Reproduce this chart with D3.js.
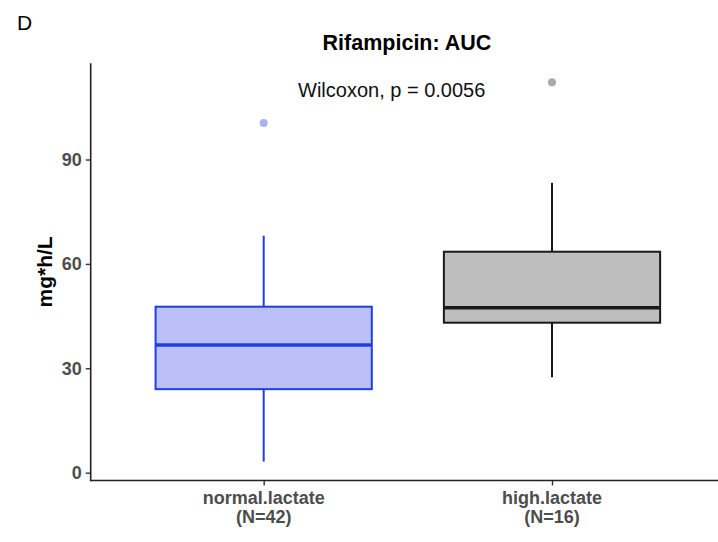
<!DOCTYPE html>
<html>
<head>
<meta charset="utf-8">
<script src="https://cdn.jsdelivr.net/npm/d3@7"></script>
<style>
  body { margin: 0; background: #fff; }
  text { font-family: "Liberation Sans", Arial, sans-serif; }
</style>
</head>
<body>
<div id="chart"></div>
<script>
var groups = ["normal.lactate", "high.lactate"];
var groupCounts = ["(N=42)", "(N=16)"];
// box stats: [lowWhisker, q1, median, q3, highWhisker]
var boxStats = [[3.2, 24.0, 36.7, 47.7, 68.1],
                [27.4, 43.1, 47.4, 63.5, 83.3]];
var outliers = [[100.5], [112.2]];
var yTicks = [0, 30, 60, 90];
var fills = ["#bcc0f8", "#bebebe"];
var strokes = ["#1f3fe0", "#1a1a1a"];
var outlierColors = ["#aab1f4", "#a9a9a9"];

var width = 718, height = 542;
var svg = d3.select("#chart").append("svg")
  .attr("width", width)
  .attr("height", height);

var pLeft = 90.7, pRight = 725, pTop = 63.3, pBottom = 480.5;

var x = d3.scalePoint()
  .domain(groups)
  .range([pLeft, pRight])
  .padding(0.6);

var y = d3.scaleLinear()
  .domain([-2.25, 117.65])
  .range([pBottom, pTop]);

var boxW = x.step() * 0.75;

// boxes
var g = svg.append("g");
groups.forEach(function(grp, i){
  var s = boxStats[i];
  var cx = x(grp);
  var bg = g.append("g");
  // whiskers
  bg.append("line")
    .attr("x1", cx).attr("x2", cx)
    .attr("y1", y(s[3])).attr("y2", y(s[4]))
    .attr("stroke", strokes[i]).attr("stroke-width", 2);
  bg.append("line")
    .attr("x1", cx).attr("x2", cx)
    .attr("y1", y(s[0])).attr("y2", y(s[1]))
    .attr("stroke", strokes[i]).attr("stroke-width", 2);
  bg.append("rect")
    .attr("x", cx - boxW/2)
    .attr("width", boxW)
    .attr("y", y(s[3]))
    .attr("height", y(s[1]) - y(s[3]))
    .attr("fill", fills[i])
    .attr("stroke", strokes[i])
    .attr("stroke-width", 2);
  bg.append("line")
    .attr("x1", cx - boxW/2).attr("x2", cx + boxW/2)
    .attr("y1", y(s[2])).attr("y2", y(s[2]))
    .attr("stroke", strokes[i]).attr("stroke-width", 3.5);
  bg.selectAll("circle")
    .data(outliers[i]).enter()
    .append("circle")
      .attr("cx", cx)
      .attr("cy", function(d){return y(d);})
      .attr("r", 4)
      .attr("fill", outlierColors[i]);
});

// axes
var yAxis = svg.append("g")
  .attr("transform", "translate(" + pLeft + ",0)")
  .call(d3.axisLeft(y).tickValues(yTicks).tickSize(5).tickPadding(4));
yAxis.select(".domain").remove();
svg.append("line")
  .attr("x1", pLeft).attr("x2", pLeft)
  .attr("y1", pTop).attr("y2", pBottom + 0.8)
  .attr("stroke", "#222").attr("stroke-width", 1.6);
yAxis.selectAll(".tick line").attr("stroke", "#333").attr("stroke-width", 1.4);
yAxis.selectAll(".tick text")
  .attr("fill", "#4d4d4d")
  .attr("font-size", "18px")
  .attr("font-weight", "bold")
  .style("font-family", "'Liberation Sans', Arial, sans-serif");

var xAxis = svg.append("g")
  .attr("transform", "translate(0," + pBottom + ")")
  .call(d3.axisBottom(x).tickSize(5).tickFormat(""));
xAxis.select(".domain").remove();
svg.append("line")
  .attr("x1", pLeft - 0.8).attr("x2", pRight)
  .attr("y1", pBottom).attr("y2", pBottom)
  .attr("stroke", "#222").attr("stroke-width", 1.6);
xAxis.selectAll(".tick line").attr("stroke", "#333").attr("stroke-width", 1.4);

var xLab = svg.append("g");
groups.forEach(function(grp, i){
  var t = xLab.append("text")
    .attr("x", x(grp))
    .attr("y", 504)
    .attr("text-anchor", "middle")
    .attr("fill", "#4d4d4d")
    .attr("font-size", "18px")
    .attr("font-weight", "bold");
  t.append("tspan").attr("x", x(grp)).text(grp);
  t.append("tspan").attr("x", x(grp)).attr("dy", 18.5).text(groupCounts[i]);
});

// y label
svg.append("text")
  .attr("transform", "translate(52," + ((pTop + pBottom)/2) + ") rotate(-90)")
  .attr("text-anchor", "middle")
  .attr("font-size", "21px")
  .attr("font-weight", "bold")
  .attr("fill", "#000")
  .text("mg*h/L");

// title
svg.append("text")
  .attr("x", 407)
  .attr("y", 50)
  .attr("text-anchor", "middle")
  .attr("font-size", "21.5px")
  .attr("font-weight", "bold")
  .text("Rifampicin: AUC");

svg.append("text")
  .attr("x", 298)
  .attr("y", 97)
  .attr("font-size", "20px")
  .attr("fill", "#111")
  .text("Wilcoxon, p = 0.0056");

svg.append("text")
  .attr("x", 17)
  .attr("y", 30)
  .attr("font-size", "21px")
  .text("D");
</script>
</body>
</html>
